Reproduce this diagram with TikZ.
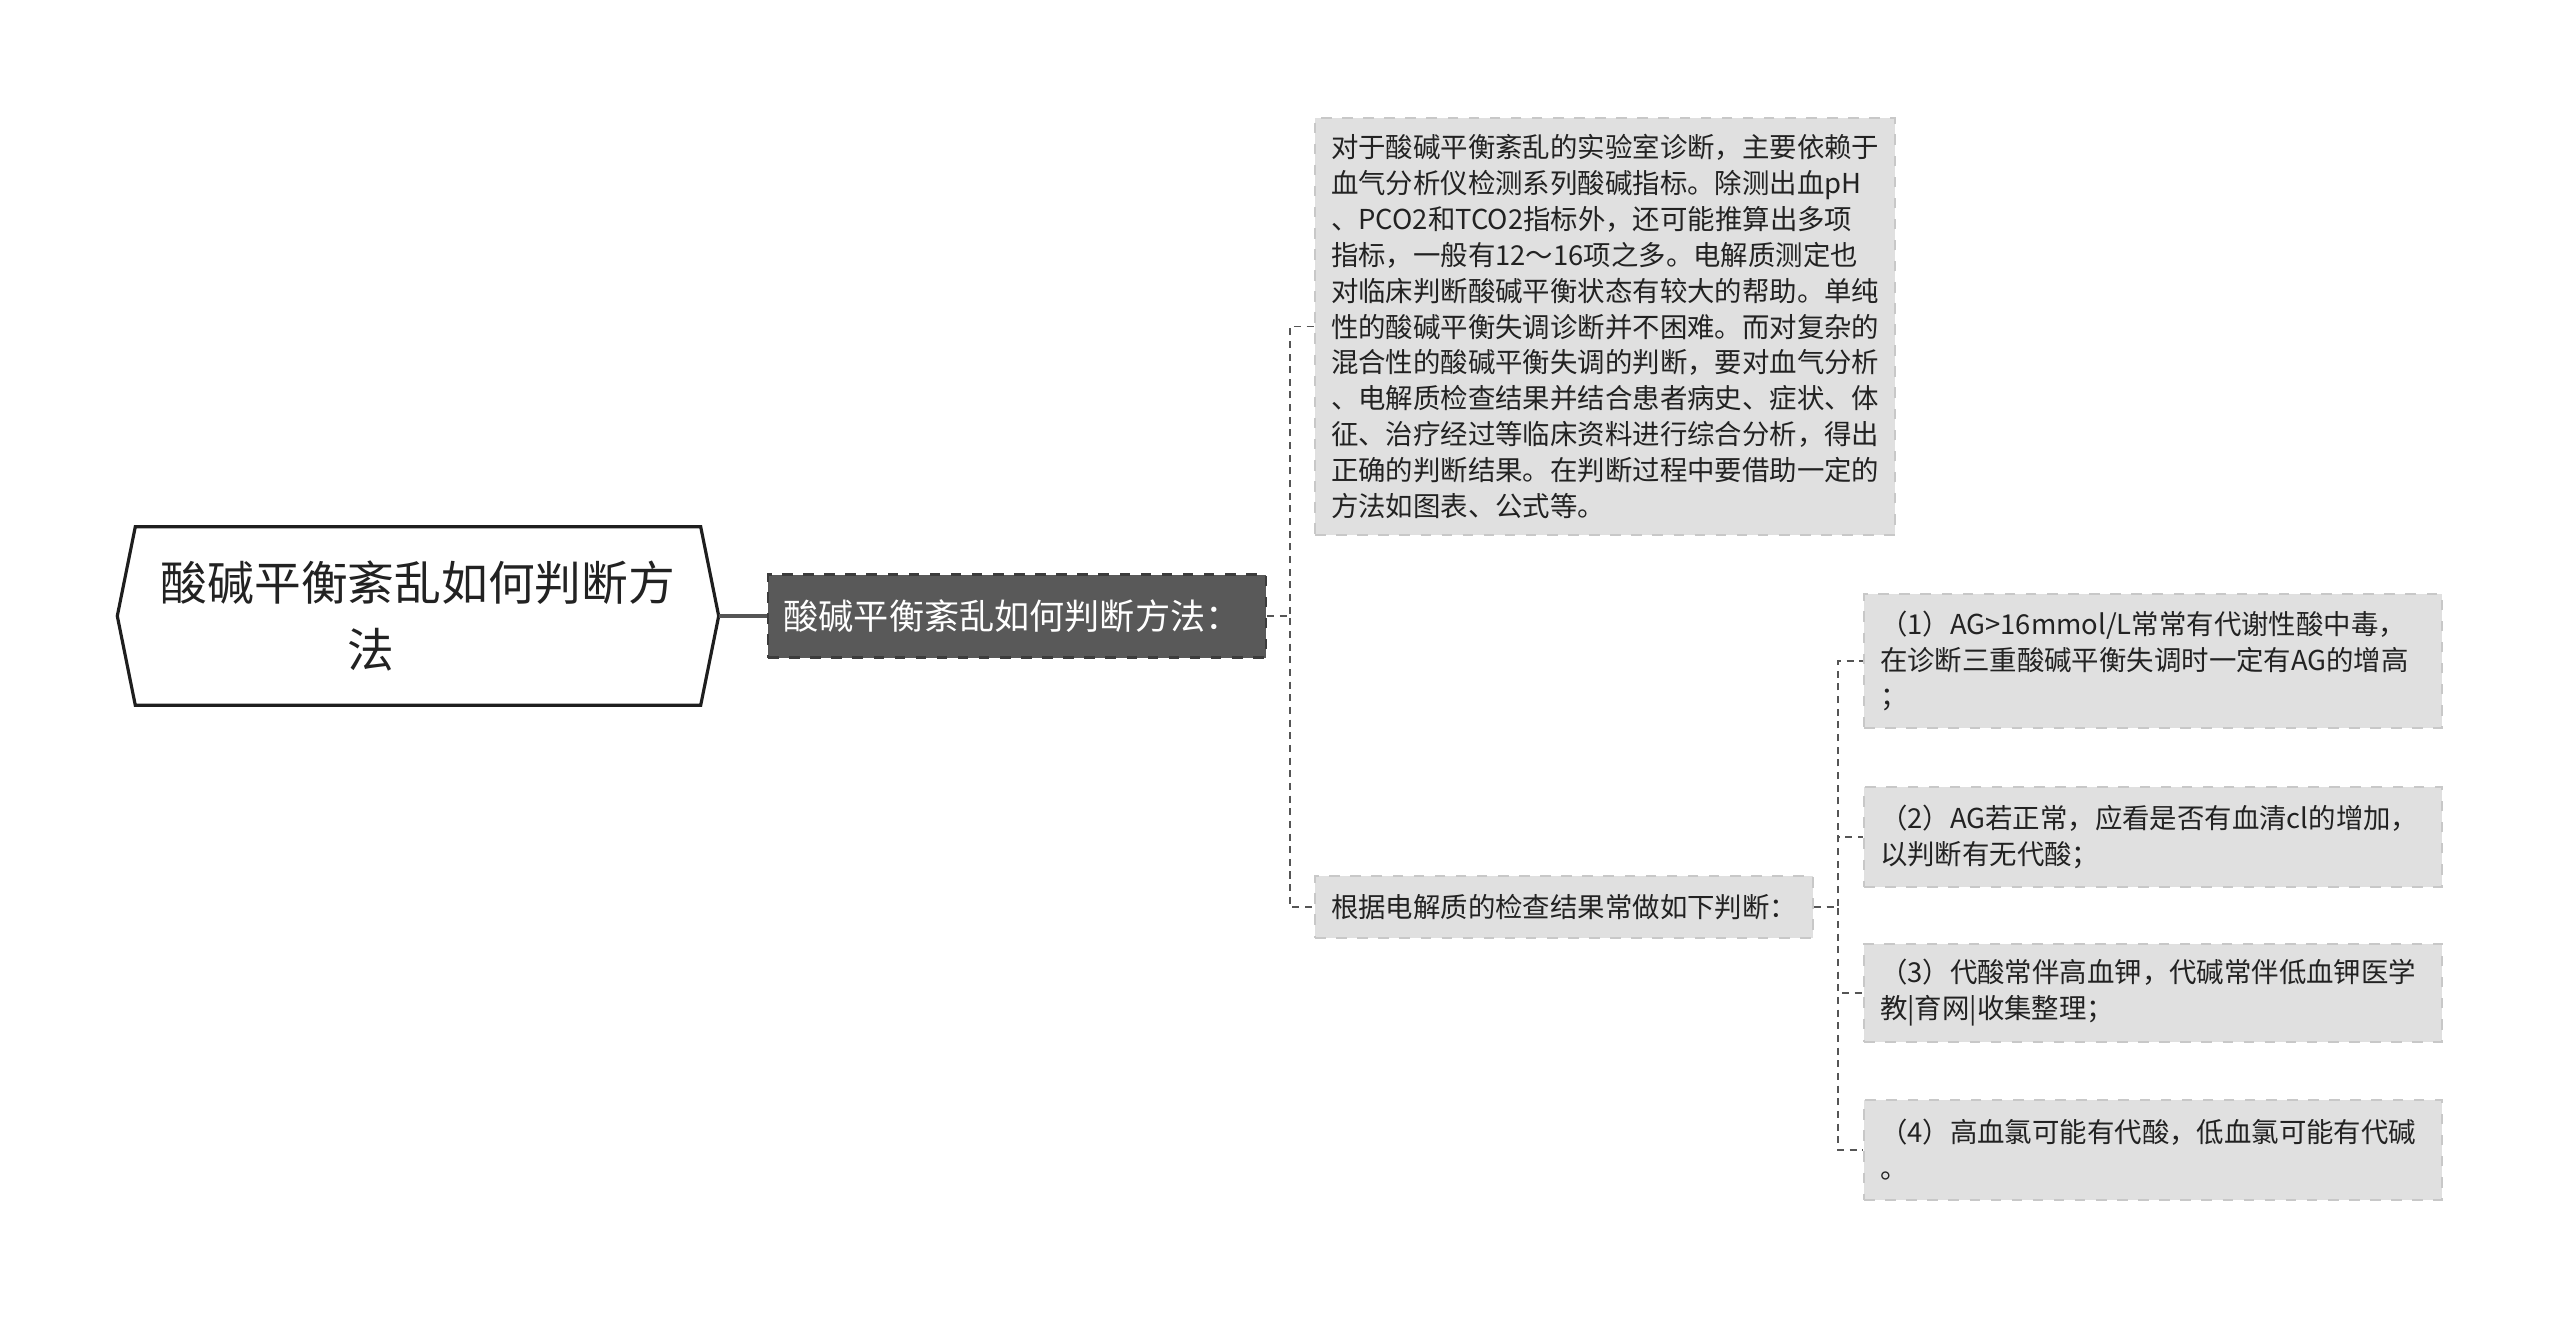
\documentclass[tikz,border=0pt]{standalone}
\usepackage{fontspec}
\newfontfamily\cjk{Noto Sans CJK SC}
\usetikzlibrary{calc}

\begin{document}
\begin{tikzpicture}[
  hexa/.style={inner sep=0pt,minimum width=6.0cm,minimum height=1.77cm,align=center,text=mm_text,font={\cjk\fontsize{13.3}{19}\selectfont}},
  darkbox/.style={anchor=west,draw=mm_dedge,dashed,line width=0.6pt,fill=mm_dark,text=white,inner sep=0pt,minimum width=4.98cm,minimum height=0.83cm,font={\cjk\fontsize{10}{12}\selectfont}},
  lightbox/.style={anchor=west,draw=mm_ledge,dashed,line width=0.6pt,fill=mm_light,text=mm_text,inner xsep=0.16cm,inner ysep=0pt,align=left,font={\cjk\fontsize{7.8}{10.2}\selectfont}},
  link/.style={draw=mm_link,line width=0.55pt,dash pattern=on 2pt off 1.6pt},
]

% ------------------------------------------------ theme colors
\definecolor{mm_dark}{RGB}{89,89,89}     %#595959
\definecolor{mm_dedge}{RGB}{60,60,60}    %#3C3C3C
\definecolor{mm_light}{RGB}{224,224,224} %#E0E0E0
\definecolor{mm_ledge}{RGB}{200,200,200} %#C8C8C8
\definecolor{mm_edge}{RGB}{30,30,30}     %#1E1E1E
\definecolor{mm_link}{RGB}{85,85,85}     %#555555
\definecolor{mm_text}{RGB}{34,34,34}     %#222222

\useasboundingbox (0,0) rectangle (25.6,-13.19);

% ------------------------------------------------ root
\node[hexa] (root) at (4.18,-6.16) {酸碱平衡紊乱如何判断方\\\makebox[3em][l]{法}};
\draw[draw=mm_edge,line width=0.9pt,fill=none] (root.west) -- ($(root.north west)+(0.18,0)$) -- ($(root.north east)+(-0.18,0)$) -- (root.east) -- ($(root.south east)+(-0.18,0)$) -- ($(root.south west)+(0.18,0)$) -- cycle;

% ------------------------------------------------ first level
\node[darkbox] (method) at (7.67,-6.16) {\hspace*{-0.1cm}酸碱平衡紊乱如何判断方法：};
\draw[draw=mm_link,line width=0.9pt] (root.east) -- (method.west);

\node[lightbox,text width=5.48cm,minimum height=4.17cm] (detail) at (13.14,-3.265) {对于酸碱平衡紊乱的实验室诊断，主要依赖于\\血气分析仪检测系列酸碱指标。除测出血pH\\、PCO2和TCO2指标外，还可能推算出多项\\指标，一般有12～16项之多。电解质测定也\\对临床判断酸碱平衡状态有较大的帮助。单纯\\性的酸碱平衡失调诊断并不困难。而对复杂的\\混合性的酸碱平衡失调的判断，要对血气分析\\、电解质检查结果并结合患者病史、症状、体\\征、治疗经过等临床资料进行综合分析，得出\\正确的判断结果。在判断过程中要借助一定的\\方法如图表、公式等。};
\node[lightbox,minimum width=4.98cm,minimum height=0.62cm] (basis) at (13.14,-9.07) {根据电解质的检查结果常做如下判断：};

\coordinate (t1) at (12.90,-6.16);
\draw[link] (method.east) -- (t1) |- (detail.west);
\draw[link] (method.east) -- (t1) |- (basis.west);

% ------------------------------------------------ second level
\node[lightbox,text width=5.46cm,minimum height=1.34cm] (rule1) at (18.63,-6.61) {（1）AG>16mmol/L常常有代谢性酸中毒，\\在诊断三重酸碱平衡失调时一定有AG的增高\\；};
\node[lightbox,text width=5.46cm,minimum height=1.00cm] (rule2) at (18.63,-8.37) {（2）AG若正常，应看是否有血清cl的增加，\\以判断有无代酸；};
\node[lightbox,text width=5.46cm,minimum height=0.98cm] (rule3) at (18.63,-9.93) {（3）代酸常伴高血钾，代碱常伴低血钾医学\\教|育网|收集整理；};
\node[lightbox,text width=5.46cm,minimum height=1.00cm] (rule4) at (18.63,-11.50) {（4）高血氯可能有代酸，低血氯可能有代碱\\。};

\coordinate (t2) at (18.38,-9.07);
\foreach \r in {1,...,4}
  \draw[link] (basis.east) -- (t2) |- (rule\r.west);

\end{tikzpicture}
\end{document}
